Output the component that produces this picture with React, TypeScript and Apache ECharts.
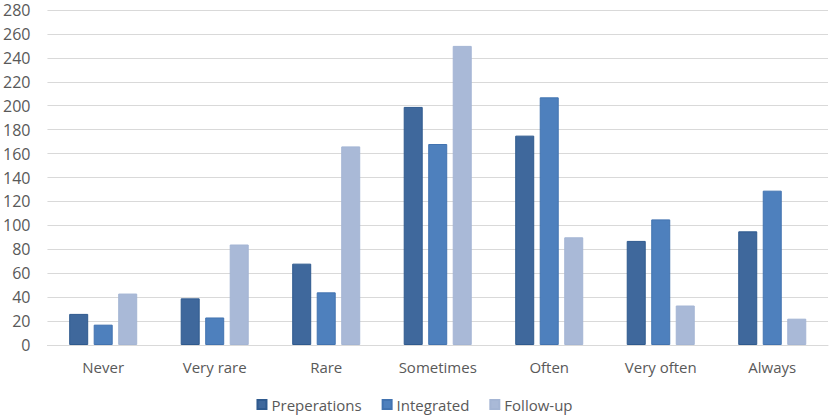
import React, { useEffect, useRef } from "react";
import * as echarts from "echarts";

const categories = ["Never", "Very rare", "Rare", "Sometimes", "Often", "Very often", "Always"];
const preperations = [26, 39, 68, 199, 175, 87, 95];
const integrated = [17, 23, 44, 168, 207, 105, 129];
const followUp = [43, 84, 166, 250, 90, 33, 22];
const seriesNames = ["Preperations", "Integrated", "Follow-up"];
const colors = ["#3F689C", "#4E80BD", "#A9B9D7"];
const borders = ["#2F5A8E", "#4273B0", "#A4B5D4"];

export default function App() {
  const ref = useRef<HTMLDivElement>(null);
  useEffect(() => {
    if (!ref.current) return;
    const chart = echarts.init(ref.current, null, { renderer: "svg" });
    const data = [preperations, integrated, followUp];
    chart.setOption({
      animation: false,
      textStyle: { fontFamily: "Open Sans" },
      grid: { left: 44, right: 1, top: 10, bottom: 74, containLabel: false },
      legend: {
        bottom: 2,
        left: "center",
        itemWidth: 9,
        itemHeight: 9,
        itemGap: 20,
        icon: "rect",
        textStyle: { fontSize: 15, color: "#595959", fontFamily: "Open Sans" },
        data: seriesNames,
      },
      xAxis: {
        type: "category",
        data: categories,
        axisTick: { show: false },
        axisLine: { lineStyle: { color: "#D9D9D9", width: 1 } },
        axisLabel: { color: "#595959", fontSize: 15, margin: 14, fontFamily: "Open Sans" },
      },
      yAxis: {
        type: "value",
        min: 0,
        max: 280,
        interval: 20,
        axisLine: { show: false },
        axisTick: { show: false },
        axisLabel: { color: "#595959", fontSize: 16, lineHeight: 16, margin: 17, fontFamily: "Open Sans" },
        splitLine: { lineStyle: { color: "#D9D9D9", width: 1 } },
      },
      series: seriesNames.map((name, i) => ({
        name,
        type: "bar",
        data: data[i],
        barWidth: 19,
        barGap: "29%",
        itemStyle: { color: colors[i], borderColor: borders[i], borderWidth: 1 },
      })),
    });
    return () => chart.dispose();
  }, []);
  return <div ref={ref} style={{ width: 829, height: 419, position: "absolute", left: 0, top: 0 }} />;
}
